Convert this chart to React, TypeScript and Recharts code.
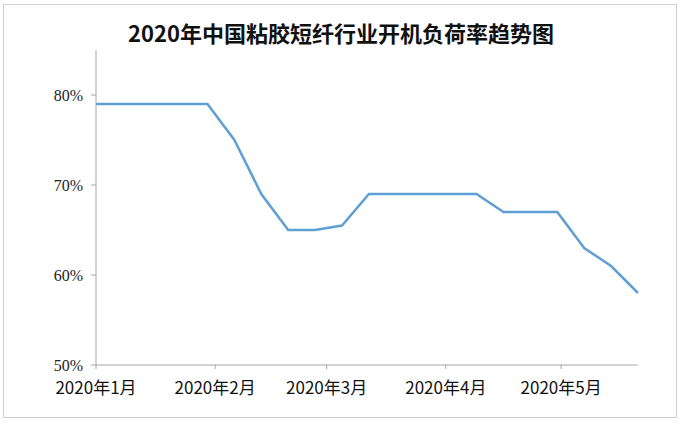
import React from "react";
import { LineChart, Line, XAxis, YAxis } from "recharts";

const dates = [
  "2020-01-01", "2020-01-09", "2020-01-16", "2020-01-23", "2020-01-30",
  "2020-02-06", "2020-02-13", "2020-02-20", "2020-02-27",
  "2020-03-05", "2020-03-12", "2020-03-19", "2020-03-26",
  "2020-04-02", "2020-04-09", "2020-04-16", "2020-04-23", "2020-04-30",
  "2020-05-07", "2020-05-14", "2020-05-21",
];
const loadRate = [
  79, 79, 79, 79, 79,
  75, 69, 65, 65,
  65.5, 69, 69, 69,
  69, 69, 67, 67, 67,
  63, 61, 58,
];
const monthTicks = ["2020-01-01", "2020-02-01", "2020-03-01", "2020-04-01", "2020-05-01"];
const monthLabels = ["2020年1月", "2020年2月", "2020年3月", "2020年4月", "2020年5月"];
const yTicks = [50, 60, 70, 80];
const title = "2020年中国粘胶短纤行业开机负荷率趋势图";

const toDay = (s: string) => {
  const [y, m, d] = s.split("-").map(Number);
  return (Date.UTC(y, m - 1, d) - Date.UTC(2020, 0, 1)) / 86400000;
};

const data = dates.map((d, i) => ({ day: toDay(d), v: loadRate[i] }));
const tickDays = monthTicks.map(toDay);
const lastDay = toDay(dates[dates.length - 1]);

export default function App() {
  return (
    <div style={{ position: "absolute", left: 0, top: 0, width: 682, height: 424, background: "#fff" }}>
      <div
        style={{
          position: "absolute", left: 3, top: 4, width: 674, height: 414,
          border: "1px solid #cfcfcf", boxSizing: "border-box",
        }}
      />
      <div
        style={{
          position: "absolute", left: 0, top: 18, width: 682, textAlign: "center",
          fontFamily: "'Noto Sans CJK SC', sans-serif", fontWeight: 700, fontSize: 22,
          color: "#111", lineHeight: "28px",
        }}
      >
        {title}
      </div>
      <div style={{ position: "absolute", left: 0, top: 0 }}>
        <LineChart
          width={682}
          height={424}
          data={data}
          margin={{ top: 50, right: 44, bottom: 29, left: 0 }}
        >
          <XAxis
            dataKey="day"
            type="number"
            domain={[0, lastDay]}
            ticks={tickDays}
            tickFormatter={(v: number) => monthLabels[tickDays.indexOf(v)] ?? ""}
            height={30}
            stroke="#a6a6a6"
            tickSize={4}
            tickMargin={13}
            tick={{ fill: "#111", fontSize: 17, fontFamily: "'Noto Sans CJK SC', sans-serif" }}
            interval={0}
          />
          <YAxis
            type="number"
            domain={[50, 85]}
            ticks={yTicks}
            tickFormatter={(v: number) => `${v}%`}
            width={96}
            stroke="#a6a6a6"
            tickSize={5}
            tickMargin={8}
            tick={{ fill: "#222", fontSize: 16, fontFamily: "'Liberation Serif', serif" }}
            interval={0}
          />
          <Line
            type="linear"
            dataKey="v"
            stroke="#609fd4"
            strokeWidth={2.5}
            dot={false}
            isAnimationActive={false}
          />
        </LineChart>
      </div>
    </div>
  );
}
